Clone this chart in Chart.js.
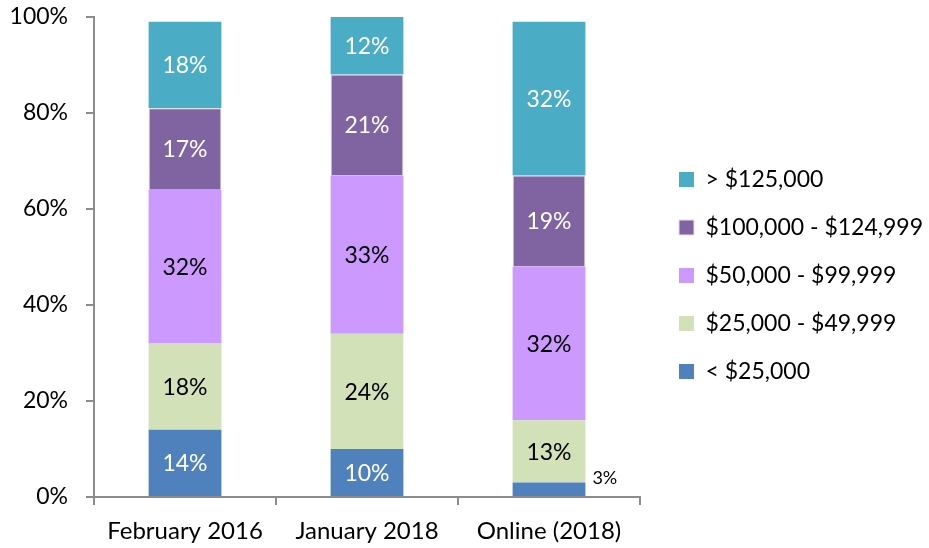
<!DOCTYPE html>
<html>
<head>
<meta charset="utf-8">
<script src="https://cdn.jsdelivr.net/npm/chart.js@4/dist/chart.umd.min.js"></script>
<style>
  html, body { margin: 0; padding: 0; background: #ffffff; }
  #wrap { width: 929px; height: 548px; position: relative; }
</style>
</head>
<body>
<div id="wrap"><canvas id="c" width="929" height="548"></canvas></div>
<script>
// ---- data ----
const categories = ['February 2016', 'January 2018', 'Online (2018)'];
const seriesNames = ['< $25,000', '$25,000 - $49,999', '$50,000 - $99,999', '$100,000 - $124,999', '> $125,000'];
const under25k      = [14, 10, 3];
const from25to50k   = [18, 24, 13];
const from50to100k  = [32, 33, 32];
const from100to125k = [17, 21, 19];
const over125k      = [18, 12, 32];
const yTickValues   = [0, 20, 40, 60, 80, 100];

// ---- styles ----
const seriesColors = ['#4F81BD', '#D3E1B9', '#CC99FF', '#8064A2', '#4BACC6'];
const labelColors  = ['#ffffff', '#000000', '#000000', '#ffffff', '#ffffff'];
const FONT = "Lato, 'Open Sans', sans-serif";

Chart.defaults.font.family = FONT;
Chart.defaults.color = '#000000';

const seriesValues = [under25k, from25to50k, from50to100k, from100to125k, over125k];

const datasets = seriesNames.map((name, i) => ({
  label: name,
  data: seriesValues[i],
  backgroundColor: seriesColors[i],
  borderColor: i === 3 ? '#E4E0EC' : seriesColors[i],
  borderWidth: i === 3 ? 1 : 0,
  barPercentage: 0.4,
  categoryPercentage: 1.0
}));

// data labels drawn at the library's bar element positions
const barLabels = {
  id: 'barLabels',
  afterDatasetsDraw(chart) {
    const ctx = chart.ctx;
    ctx.save();
    chart.data.datasets.forEach((ds, i) => {
      const meta = chart.getDatasetMeta(i);
      meta.data.forEach((bar, j) => {
        const v = ds.data[j];
        const txt = v + '%';
        if (v >= 5) {
          ctx.font = '23px ' + FONT;
          ctx.fillStyle = labelColors[i];
          ctx.textAlign = 'center';
          ctx.textBaseline = 'middle';
          ctx.fillText(txt, bar.x, (bar.y + bar.base) / 2 + 1);
        } else {
          ctx.font = '18px ' + FONT;
          ctx.fillStyle = '#000000';
          ctx.textAlign = 'left';
          ctx.textBaseline = 'middle';
          ctx.fillText(txt, bar.x + bar.width / 2 + 7, bar.y - 4);
        }
      });
    });
    ctx.restore();
  }
};

// fix legend width and nudge it right of the plot area
const legendPlace = {
  id: 'legendPlace',
  beforeLayout(chart) {
    const lg = chart.legend;
    if (lg && !lg._fixedFit) {
      const orig = lg.fit;
      lg.fit = function () { orig.call(this); this.width = 289; };
      lg._fixedFit = true;
    }
  },
  afterLayout(chart) {
    const lg = chart.legend;
    if (lg) { lg.left += 14; lg.right += 14; }
  }
};

new Chart(document.getElementById('c'), {
  type: 'bar',
  data: { labels: categories, datasets: datasets },
  options: {
    responsive: false,
    animation: false,
    layout: { padding: { top: 3, right: 0, bottom: 0, left: 0 } },
    plugins: {
      legend: {
        position: 'right',
        reverse: true,
        labels: {
          boxWidth: 15,
          boxHeight: 15,
          padding: 25,
          color: '#000000',
          font: { size: 23, family: FONT }
        }
      },
      tooltip: { enabled: false }
    },
    scales: {
      x: {
        stacked: true,
        grid: {
          display: true,
          offset: true,
          drawOnChartArea: false,
          drawTicks: true,
          tickLength: 8,
          color: '#8C8C8C',
          lineWidth: 2
        },
        border: { display: true, color: '#8C8C8C', width: 2 },
        ticks: { color: '#000000', padding: 12, font: { size: 24, family: FONT } },
        afterFit(scale) { scale.height = 51; }
      },
      y: {
        stacked: true,
        min: 0,
        max: 100,
        afterBuildTicks(scale) { scale.ticks = yTickValues.map(v => ({ value: v })); },
        grid: {
          display: true,
          drawOnChartArea: false,
          drawTicks: true,
          tickLength: 8,
          color: '#8C8C8C',
          lineWidth: 2
        },
        border: { display: true, color: '#8C8C8C', width: 2 },
        ticks: {
          color: '#000000',
          padding: 18,
          font: { size: 23, family: FONT },
          callback: v => v + '%'
        },
        afterFit(scale) {
          scale.width = 94;
          scale.paddingTop = 17;
          scale.paddingBottom = 0;
        }
      }
    }
  },
  plugins: [barLabels, legendPlace]
});
</script>
</body>
</html>
